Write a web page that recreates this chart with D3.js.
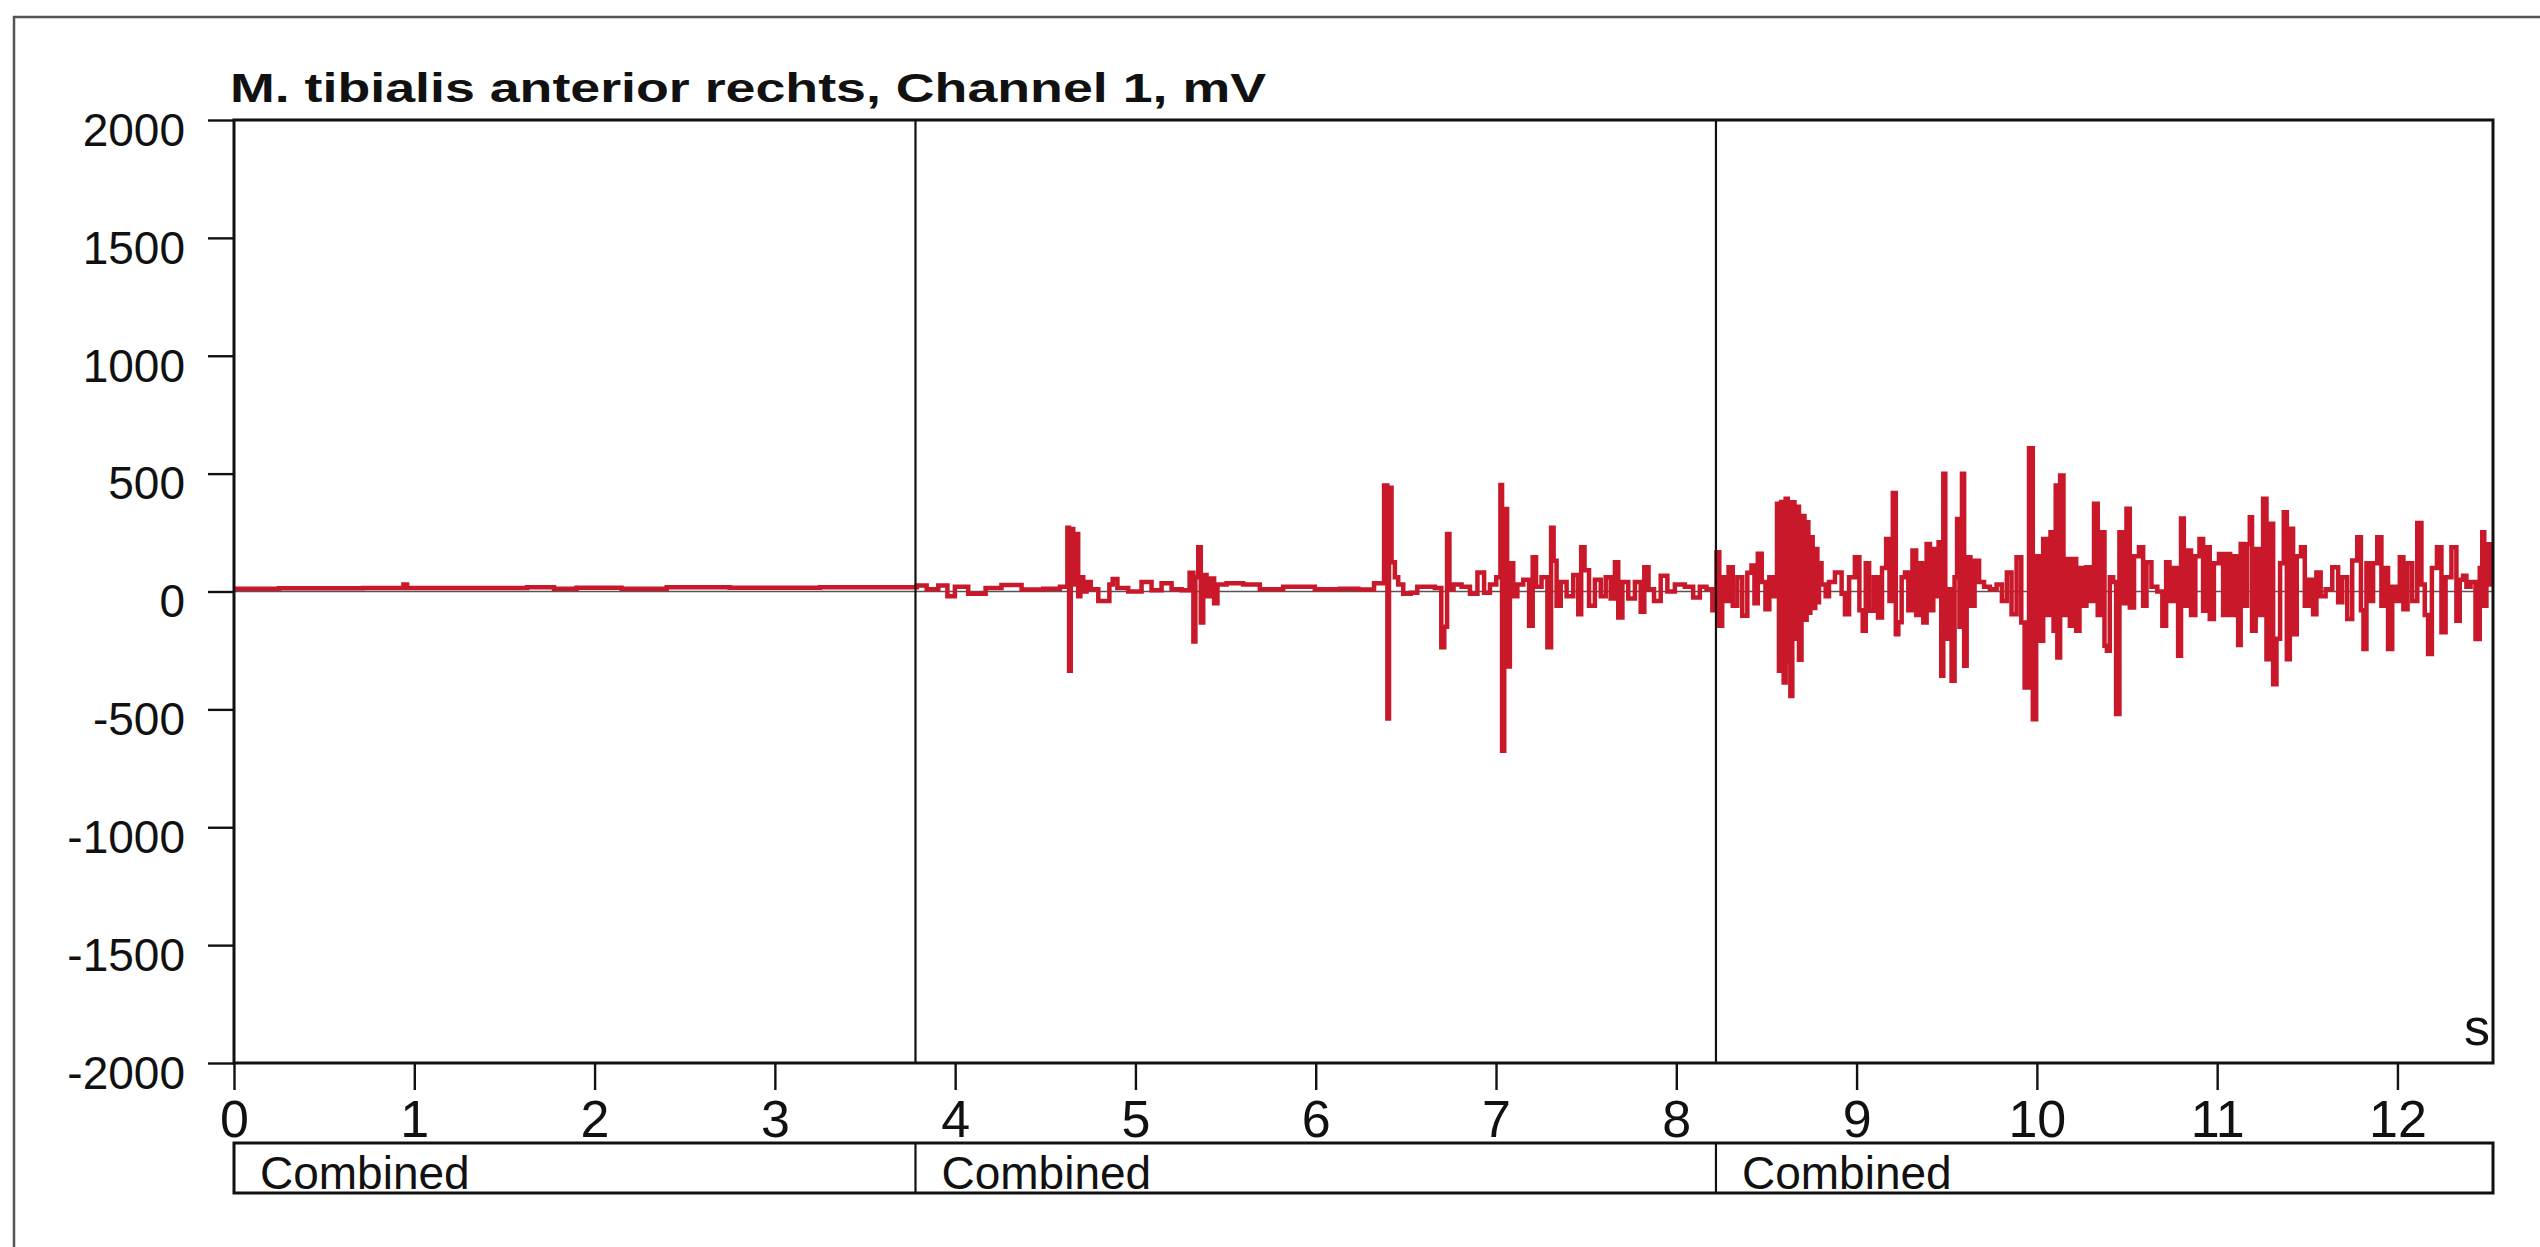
<!DOCTYPE html>
<html>
<head>
<meta charset="utf-8">
<script src="https://cdn.jsdelivr.net/npm/d3@7"></script>
<style>
  body { margin: 0; background: #fff; }
  svg { display: block; }
</style>
</head>
<body>
<script>
// tick values and section markers
var yTicks = [2000, 1500, 1000, 500, 0, -500, -1000, -1500, -2000];
var xTicks = [0, 1, 2, 3, 4, 5, 6, 7, 8, 9, 10, 11, 12];
var sectionStarts = [0, 3.78, 8.22];
var sectionLabels = ["Combined", "Combined", "Combined"];
var title = "M. tibialis anterior rechts, Channel 1, mV";
var unitLabel = "s";

// signal, [seconds, mV]
var signal1 = [
  [0, 12], [0.5, 14], [0.93, 15], [0.95, 30], [0.97, 15], [1.5, 15], [1.75, 18], [1.8, 12],
  [2.0, 16], [2.3, 12], [2.5, 18], [3.0, 16], [3.5, 18], [3.77, 18]
];
var signal2 = [
  [3.805, 25], [3.879, 10], [3.934, 25], [3.98, -20], [4.017, 20], [4.128, -10], [4.21, 15],
  [4.304, 28], [4.433, 8], [4.544, 12], [4.618, 20], [4.627, 270], [4.637, -336], [4.646, 265],
  [4.664, 30], [4.677, 244], [4.688, -20], [4.701, 60], [4.72, 0], [4.738, 40], [4.766, 10],
  [4.822, -40], [4.849, -40], [4.862, 30], [4.886, 53], [4.914, 15], [5.006, 0], [5.062, 40],
  [5.117, 5], [5.173, 35], [5.228, 10], [5.284, 5], [5.317, 80], [5.326, -212], [5.339, 60],
  [5.358, 188], [5.367, -131], [5.385, 70], [5.404, -20], [5.432, 55], [5.441, -50], [5.469, 30],
  [5.542, 35], [5.653, 30], [5.727, 10], [5.912, 20], [6.078, 10], [6.189, 12], [6.282, 8],
  [6.365, 35], [6.393, 450], [6.402, -539], [6.411, 440], [6.43, 124], [6.448, 60], [6.467, 30],
  [6.504, -10], [6.55, -5], [6.577, 20], [6.633, 20], [6.689, 15], [6.704, -237], [6.722, -150],
  [6.735, 244], [6.748, 10], [6.781, 30], [6.837, 20], [6.874, -10], [6.92, 81], [6.948, -5],
  [6.985, 30], [7.018, 60], [7.031, 452], [7.036, -676], [7.055, 350], [7.068, -318], [7.086, 120],
  [7.105, -20], [7.132, 30], [7.17, 50], [7.197, -145], [7.21, 145], [7.234, 20], [7.271, 60],
  [7.299, -237], [7.312, 270], [7.327, 130], [7.345, -60], [7.373, 40], [7.41, -20], [7.447, 70],
  [7.465, -96], [7.48, 188], [7.502, 90], [7.53, -60], [7.567, 50], [7.595, -20], [7.622, 60],
  [7.65, -30], [7.669, 124], [7.687, -110], [7.715, 40], [7.752, -30], [7.789, 40], [7.816, -86],
  [7.829, 103], [7.863, 10], [7.89, -40], [7.937, 67], [7.964, 0], [8.02, 30], [8.075, 20],
  [8.112, -25], [8.149, 20], [8.186, 10]
];
var signal3 = [
  [8.214, -80], [8.232, 166], [8.245, -145], [8.264, 60], [8.279, -40], [8.301, 103], [8.325, -60],
  [8.352, 60], [8.38, -103], [8.408, 80], [8.426, 110], [8.441, -50], [8.463, 160], [8.485, 40],
  [8.504, -75], [8.528, 60], [8.552, -20], [8.565, 372], [8.574, -336], [8.589, 380], [8.602, -386],
  [8.611, 393], [8.626, -300], [8.639, -443], [8.648, 379], [8.663, -200], [8.676, 360], [8.685, -290],
  [8.704, 320], [8.718, -120], [8.728, 294], [8.737, -90], [8.75, 230], [8.763, -70], [8.778, 180],
  [8.787, -46], [8.796, 120], [8.815, 30], [8.842, -20], [8.852, 40], [8.908, 81], [8.926, -10],
  [8.945, -96], [8.972, 60], [9.009, 145], [9.022, -80], [9.046, -166], [9.056, 120], [9.083, -82],
  [9.107, 60], [9.13, -110], [9.152, 100], [9.176, 223], [9.189, -40], [9.213, 418], [9.222, -181],
  [9.241, -130], [9.259, 60], [9.278, 81], [9.296, -80], [9.324, 174], [9.337, -100], [9.361, 120],
  [9.379, -131], [9.398, 202], [9.416, -80], [9.435, 180], [9.448, -20], [9.462, 209], [9.477, -357],
  [9.485, 499], [9.499, -200], [9.518, 10], [9.536, -379], [9.551, 60], [9.564, 308], [9.577, -150],
  [9.592, 499], [9.601, -315], [9.62, 145], [9.643, -60], [9.666, 130], [9.693, 40], [9.721, 20],
  [9.758, 10], [9.795, 30], [9.817, -40], [9.85, 81], [9.869, -96], [9.906, 145], [9.921, -131],
  [9.943, -407], [9.97, 608], [9.985, -542], [10.007, 150], [10.026, -209], [10.044, 223],
  [10.066, -100], [10.085, 251], [10.1, -166], [10.109, 450], [10.118, -280], [10.14, 492],
  [10.155, -100], [10.174, 138], [10.192, -145], [10.211, 138], [10.225, -166], [10.248, 100],
  [10.266, -60], [10.284, 103], [10.303, -40], [10.331, 372], [10.344, -100], [10.368, 251],
  [10.382, -230], [10.395, -251], [10.414, 60], [10.432, 40], [10.447, -520], [10.469, 251],
  [10.488, -50], [10.506, 351], [10.525, -68], [10.553, 150], [10.58, 188], [10.599, -60],
  [10.617, 124], [10.654, 20], [10.682, 0], [10.71, -145], [10.724, 124], [10.747, -40],
  [10.774, 100], [10.793, -273], [10.806, 310], [10.824, -60], [10.843, 174], [10.867, -100],
  [10.891, 150], [10.913, 223], [10.931, -82], [10.95, 188], [10.968, -117], [10.996, 120],
  [11.024, 159], [11.042, -100], [11.061, 159], [11.083, -100], [11.107, 150], [11.126, -227],
  [11.135, 202], [11.157, -60], [11.175, 200], [11.187, 315], [11.2, -166], [11.227, 180],
  [11.246, -100], [11.264, 393], [11.283, -287], [11.301, 287], [11.32, -393], [11.338, -200],
  [11.36, 120], [11.379, 336], [11.394, -287], [11.412, 266], [11.43, -181], [11.453, 150],
  [11.477, 188], [11.495, -60], [11.523, 50], [11.541, -96], [11.56, 81], [11.588, -20],
  [11.615, 10], [11.662, 103], [11.68, -46], [11.708, 60], [11.735, -117], [11.763, 131],
  [11.791, 230], [11.804, -80], [11.819, -244], [11.837, 120], [11.856, -40], [11.874, 120],
  [11.902, 230], [11.92, -60], [11.939, 100], [11.957, -244], [11.985, 20], [12.004, -40],
  [12.022, 145], [12.044, -75], [12.068, 120], [12.096, -40], [12.124, 291], [12.142, 30],
  [12.161, -100], [12.179, -265], [12.203, 100], [12.235, 188], [12.253, -173], [12.281, 60],
  [12.318, 188], [12.336, -124], [12.355, 50], [12.373, 67], [12.392, 20], [12.419, 40],
  [12.447, -202], [12.466, 100], [12.475, 251], [12.488, -60], [12.499, 200], [12.53, 30]
];

var width = 2540;
var height = 1247;
var margin = { left: 234, right: 47, top: 120, bottom: 184 };
var plotW = width - margin.left - margin.right;
var plotH = height - margin.top - margin.bottom;
var tMax = 12.53;

var svg = d3.select("body")
  .append("svg")
  .attr("width", width)
  .attr("height", height)
  .style("font-family", "'Liberation Sans', Arial, sans-serif");

// scanned page border
svg.append("path")
  .attr("d", "M14," + height + "V17H" + width)
  .attr("fill", "none")
  .attr("stroke", "#555")
  .attr("stroke-width", 2.5);

var x = d3.scaleLinear().domain([0, tMax]).range([margin.left, margin.left + plotW]);
var y = d3.scaleLinear().domain([-2000, 2000]).range([margin.top + plotH, margin.top]);

svg.append("text")
  .attr("x", 230)
  .attr("y", 102)
  .attr("font-size", 41)
  .attr("font-weight", "bold")
  .attr("fill", "#111")
  .attr("textLength", 1036)
  .attr("lengthAdjust", "spacingAndGlyphs")
  .text(title);

// zero reference line
svg.append("line")
  .attr("x1", x(0)).attr("x2", x(tMax))
  .attr("y1", y(0)).attr("y2", y(0))
  .attr("stroke", "#555")
  .attr("stroke-width", 1.5);

// signal
var line = d3.line()
  .x(function(d) { return x(d[0]); })
  .y(function(d) { return y(d[1]); })
  .curve(d3.curveStep);

svg.append("path")
  .datum(signal1.concat(signal2, signal3))
  .attr("d", line)
  .attr("fill", "none")
  .attr("stroke", "#c8182a")
  .attr("stroke-width", 4.5)
  .attr("stroke-linejoin", "miter");

// section dividers
svg.selectAll(".divider")
  .data(sectionStarts.slice(1))
  .enter().append("line")
  .attr("class", "divider")
  .attr("x1", function(d) { return x(d); })
  .attr("x2", function(d) { return x(d); })
  .attr("y1", y(2000))
  .attr("y2", y(-2000))
  .attr("stroke", "#111")
  .attr("stroke-width", 2.2);

// axes
var yAxis = svg.append("g")
  .attr("transform", "translate(" + margin.left + ",0)")
  .call(d3.axisLeft(y).tickValues(yTicks).tickSize(26).tickPadding(23)
    .tickFormat(function(d) { return String(d); }));
yAxis.select(".domain").remove();
yAxis.selectAll("line").attr("stroke", "#111").attr("stroke-width", 2.4);
yAxis.selectAll("text")
  .attr("font-size", 46)
  .attr("font-family", "'Liberation Sans', Arial, sans-serif")
  .attr("fill", "#111")
  .attr("dy", "0.55em");

var xAxis = svg.append("g")
  .attr("transform", "translate(0," + (margin.top + plotH) + ")")
  .call(d3.axisBottom(x).tickValues(xTicks).tickSize(27).tickPadding(10)
    .tickFormat(function(d) { return String(d); }));
xAxis.select(".domain").remove();
xAxis.selectAll("line").attr("stroke", "#111").attr("stroke-width", 2.4);
xAxis.selectAll("text")
  .attr("font-size", 52)
  .attr("font-family", "'Liberation Sans', Arial, sans-serif")
  .attr("fill", "#111");

// plot frame
svg.append("rect")
  .attr("x", margin.left)
  .attr("y", margin.top)
  .attr("width", plotW)
  .attr("height", plotH)
  .attr("fill", "none")
  .attr("stroke", "#111")
  .attr("stroke-width", 3);

svg.append("text")
  .attr("x", x(tMax) - 3)
  .attr("y", 1045)
  .attr("text-anchor", "end")
  .attr("font-size", 52)
  .attr("fill", "#111")
  .text(unitLabel);

// section band below the axis
var bandTop = 1143, bandH = 50;
svg.append("rect")
  .attr("x", x(0))
  .attr("y", bandTop)
  .attr("width", plotW)
  .attr("height", bandH)
  .attr("fill", "none")
  .attr("stroke", "#111")
  .attr("stroke-width", 3);

var sections = svg.selectAll(".section")
  .data(sectionStarts)
  .enter().append("g")
  .attr("class", "section");

sections.filter(function(d, i) { return i > 0; })
  .append("line")
  .attr("x1", function(d) { return x(d); })
  .attr("x2", function(d) { return x(d); })
  .attr("y1", bandTop)
  .attr("y2", bandTop + bandH)
  .attr("stroke", "#111")
  .attr("stroke-width", 2.2);

sections.append("text")
  .attr("x", function(d) { return x(d) + 26; })
  .attr("y", bandTop + bandH - 4)
  .attr("font-size", 46)
  .attr("fill", "#111")
  .text(function(d, i) { return sectionLabels[i]; });
</script>
</body>
</html>
